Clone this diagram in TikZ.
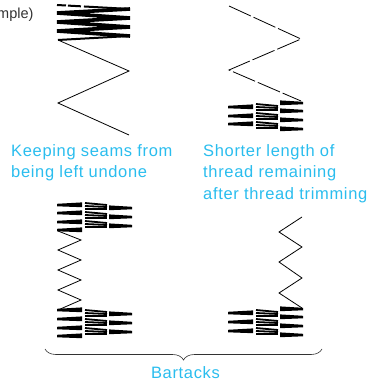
\documentclass[tikz,border=0pt]{standalone}
\usepackage{fontspec}
\setmainfont{Liberation Sans}
\newfontfamily\capfont{Liberation Sans}[LetterSpace=4]
\usepackage{xcolor}
\usetikzlibrary{
	positioning,
	decorations.pathreplacing
}
\definecolor{labelblue}{HTML}{2ABDEE}
\definecolor{notegray}{HTML}{333333}

\tikzset{
	caption/.style={text=labelblue,font=\capfont\fontsize{16.5}{21.5}\selectfont,align=left,inner sep=0pt},
	thread/.style={black,line width=0.8pt,line join=miter},
	cutthread/.style={thread,dash pattern=on 24pt off 3pt},
	tack/.style={black,line width=1.8pt},
	bartack/.style={black}
}

% one bar of thread, fine at #1 and thick at #3
\newcommand{\tackbar}[3]{
	\fill[bartack] (#1,#3-1.2) -- (#2,#3-2.6) -- (#2,#3+2.2) -- (#1,#3+1.3) -- cycle;
}
% block of three columns, top left corner at #1,#2; #3 and #4 list the rows of the outer columns
\newcommand{\tackblock}[4]{
	\begin{scope}[shift={(#1,#2)}]
		\foreach \row in {#3}{
			\tackbar{0}{25}{\row}
		}
		\foreach \row in {0,9,18}{
			\draw[tack] (28,\row+1) -- (50,\row+3);
			\draw[tack] (28,\row+4) -- (50,\row+5);
			\draw[tack] (28,\row+7) -- (50,\row+7);
		}
		\foreach \row in {#4}{
			\tackbar{75}{52}{\row}
		}
	\end{scope}
}

\begin{document}
\begin{tikzpicture}[x=1pt,y=-1pt]
	\useasboundingbox (0,0) rectangle (371,382);

	% top left
	\node[anchor=base west,inner sep=0pt,text=notegray,font=\fontsize{14.5}{16}\selectfont] (note) at (-3,19) {mple)};
	\draw[bartack,line width=2pt,dash pattern=on 9pt off 2pt on 13pt off 3pt on 60pt off 0pt] (57,5) -- (130,9);
	\draw[bartack,line width=3.6pt,line join=bevel] (130,9) -- (57,13) -- (130,18) -- (57,22) -- (130,27) -- (57,31) -- (130,36);
	\draw[bartack,line width=2pt] (130,36) -- (58,40);
	\draw[thread] (58,40) -- (129,71) -- (58,103) -- (129,135);

	% top right
	\draw[cutthread] (229,6) -- (301,39) -- (229,70) -- (301,101);
	\tackblock{228}{103}{4,13,21}{0,8,17,26}

	% bottom left
	\tackblock{57}{202}{3,11,20,28}{6,15,24}
	\draw[thread] (58,231) -- (81,240) -- (58,250) -- (81,260) -- (58,270) -- (81,280) -- (58,290) -- (81,300) -- (58,310);
	\tackblock{57}{309}{1,10,19,27}{5,14,23}

	% bottom right
	\draw[thread] (302,217) -- (279,232) -- (302,247) -- (279,262) -- (302,278) -- (279,293) -- (302,308);
	\tackblock{228}{309}{4,13,22}{0,8,17,26}

	% labels
	\node[caption,anchor=north west] (seams) at (11,144) {Keeping seams from\\being left undone};
	\node[caption,anchor=north west] (short) at (203,144) {Shorter length of\\thread remaining\\after thread trimming};

	\coordinate (braceleft) at (45,349);
	\coordinate (braceright) at (322,349);
	\draw[line width=0.6pt,black!80,decorate,decoration={brace,mirror,amplitude=11pt}] (braceleft) -- (braceright);
	\node[caption,anchor=base] (bartacks) at (185.5,378) {Bartacks};
\end{tikzpicture}
\end{document}
